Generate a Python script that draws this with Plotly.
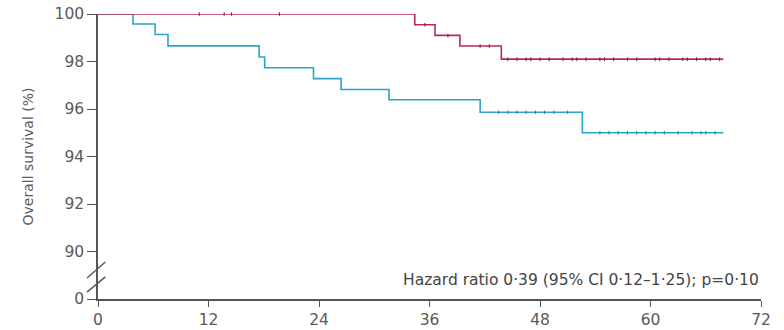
import plotly.graph_objects as go

# Kaplan-Meier step data (months, overall survival %)
red_t = [0, 34.4, 36.6, 39.3, 43.8, 67.9]
red_s = [100, 99.55, 99.1, 98.65, 98.1, 98.1]
blue_t = [0, 3.8, 6.2, 7.6, 17.5, 18.1, 23.4, 26.4, 31.6, 41.5, 52.6, 67.9]
blue_s = [100, 99.58, 99.14, 98.66, 98.19, 97.74, 97.28, 96.82, 96.39, 95.86, 95.0, 95.0]

# censoring times
red_cens = [11.0, 13.7, 14.5, 19.7, 35.5, 38.0, 41.5, 42.5, 44.5, 45.5, 46.5, 47.0, 48.0, 49.0,
            50.5, 51.5, 52.0, 53.0, 54.5, 55.0, 56.0, 57.5, 58.5, 60.5, 61.0, 62.0, 63.5, 64.0,
            65.0, 66.0, 66.5, 67.5]
blue_cens = [43.5, 44.5, 45.5, 46.5, 47.5, 48.5, 49.5, 51.0, 54.5, 55.5, 56.5, 57.5, 58.5,
             59.5, 60.5, 61.5, 63.0, 64.5, 65.5, 66.0, 67.0]

x_ticks = [0, 12, 24, 36, 48, 60, 72]
y_ticks = [88, 90, 92, 94, 96, 98, 100]
y_tick_text = ["0", "90", "92", "94", "96", "98", "100"]

RED = "#b82a55"
BLUE = "#2aa5c6"
AXIS = "#555555"
LABEL = "#5a5a5a"
FONT = "DejaVu Sans"


def surv_at(times, surv, t):
    v = surv[0]
    for ti, si in zip(times, surv):
        if ti <= t:
            v = si
    return v


fig = go.Figure()
fig.add_trace(go.Scatter(x=blue_t, y=blue_s, mode="lines", line=dict(color=BLUE, width=1.6, shape="hv"),
                         cliponaxis=False, showlegend=False, hoverinfo="skip"))
fig.add_trace(go.Scatter(x=red_t, y=red_s, mode="lines", line=dict(color=RED, width=1.6, shape="hv"),
                         cliponaxis=False, showlegend=False, hoverinfo="skip"))
fig.add_trace(go.Scatter(x=blue_cens, y=[surv_at(blue_t, blue_s, t) for t in blue_cens], mode="markers",
                         marker=dict(symbol="line-ns", size=2.5, line=dict(color="#1f8aa8", width=1.1)),
                         cliponaxis=False, showlegend=False, hoverinfo="skip"))
fig.add_trace(go.Scatter(x=red_cens, y=[surv_at(red_t, red_s, t) for t in red_cens], mode="markers",
                         marker=dict(symbol="line-ns", size=2.5, line=dict(color="#8a1a40", width=1.1)),
                         cliponaxis=False, showlegend=False, hoverinfo="skip"))

# axis break marks (x in paper units so they may extend left of the axis)
for y0, y1 in [(88.88, 89.56), (88.29, 88.93)]:
    fig.add_shape(type="line", xref="paper", yref="y", x0=-0.0166, x1=0.011, y0=y0, y1=y1,
                  line=dict(color=AXIS, width=1.4))

fig.add_annotation(x=1, xref="paper", y=88.8, yref="y", xanchor="right", yanchor="middle",
                   text="Hazard ratio 0·39 (95% CI 0·12–1·25); p=0·10", showarrow=False,
                   font=dict(family=FONT, size=15.5, color="#444444"))

fig.update_layout(
    width=784, height=330,
    margin=dict(l=98, r=23, t=14, b=31),
    paper_bgcolor="white", plot_bgcolor="white",
    font=dict(family=FONT, color=LABEL),
    xaxis=dict(range=[0, 72], tickvals=x_ticks, ticks="outside", ticklen=6, tickwidth=1.3,
               tickcolor=AXIS, showline=True, linecolor=AXIS, linewidth=1.5, showgrid=False,
               zeroline=False, automargin=False, tickfont=dict(size=15.5, color=LABEL)),
    yaxis=dict(range=[88, 100], tickvals=y_ticks, ticktext=y_tick_text, ticks="outside", ticklen=9,
               tickwidth=1.3, tickcolor=AXIS, showline=True, linecolor=AXIS, linewidth=1.5,
               showgrid=False, zeroline=False, automargin=False, tickfont=dict(size=15.5, color=LABEL),
               title=dict(text="Overall survival (%)", font=dict(size=14, color=LABEL), standoff=18)),
)

fig.write_html("out.html")
